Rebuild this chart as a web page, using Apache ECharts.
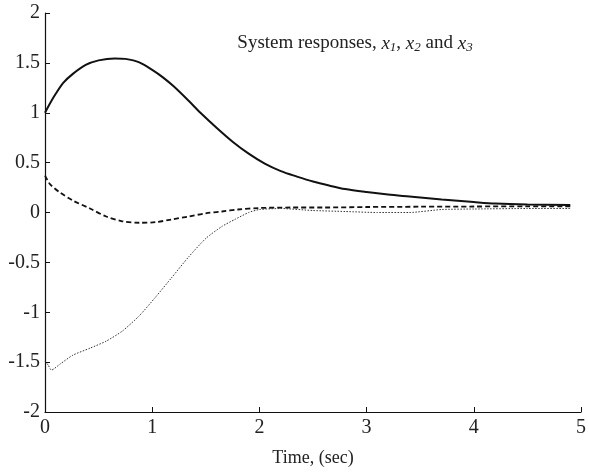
<!DOCTYPE html>
<html>
<head>
<meta charset="utf-8">
<script src="https://cdn.jsdelivr.net/npm/echarts@6/dist/echarts.min.js"></script>
<style>html,body{margin:0;padding:0;background:#fff;}#chart{width:589px;height:472px;}</style>
</head>
<body>
<div id="chart"></div>
<script>
// Data
var xTicks = [0, 1, 2, 3, 4, 5];
var yTicks = [-2, -1.5, -1, -0.5, 0, 0.5, 1, 1.5, 2];

var t1 = [0, 0.05, 0.1, 0.17, 0.26, 0.38, 0.5, 0.65, 0.75, 0.88, 1.0, 1.1, 1.2, 1.34, 1.45, 1.6, 1.75, 1.9, 2.05, 2.2, 2.35, 2.5, 2.65, 2.8, 3.0, 3.2, 3.4, 3.7, 4.0, 4.2, 4.5, 4.9];
var x1 = [1.00, 1.10, 1.19, 1.30, 1.39, 1.48, 1.525, 1.545, 1.54, 1.505, 1.43, 1.355, 1.265, 1.12, 1.0, 0.85, 0.71, 0.59, 0.49, 0.415, 0.36, 0.31, 0.27, 0.235, 0.205, 0.18, 0.16, 0.13, 0.105, 0.09, 0.08, 0.075];

var t2 = [0, 0.02, 0.05, 0.14, 0.26, 0.42, 0.57, 0.72, 0.88, 1.03, 1.18, 1.34, 1.5, 1.65, 1.8, 2.0, 2.3, 2.6, 3.0, 3.5, 4.0, 4.5, 4.9];
var x2 = [0.37, 0.33, 0.28, 0.20, 0.12, 0.04, -0.04, -0.088, -0.103, -0.097, -0.07, -0.04, -0.008, 0.01, 0.03, 0.045, 0.05, 0.05, 0.055, 0.058, 0.06, 0.062, 0.062];

var t3 = [0, 0.03, 0.06, 0.14, 0.26, 0.42, 0.57, 0.72, 0.88, 1.03, 1.18, 1.34, 1.5, 1.65, 1.77, 1.9, 2.0, 2.2, 2.5, 2.8, 3.1, 3.4, 3.7, 4.0, 4.5, 4.9];
var x3 = [-1.49, -1.53, -1.58, -1.52, -1.43, -1.36, -1.29, -1.19, -1.035, -0.85, -0.655, -0.445, -0.26, -0.14, -0.07, 0.0, 0.03, 0.04, 0.02, 0.01, 0.0, 0.0, 0.03, 0.035, 0.04, 0.04];

function pairs(t, v) { return t.map(function (x, i) { return [x, v[i]]; }); }

var serif = '"Liberation Serif", "DejaVu Serif", serif';
var chart = echarts.init(document.getElementById('chart'));
chart.setOption({
  animation: false,
  backgroundColor: '#fff',
  grid: { left: 45, right: 2.3, top: 13, bottom: 58, containLabel: false },
  title: {
    text: 'System responses, {i|x}{s|1}, {i|x}{s|2} and {i|x}{s|3}',
    left: 350, top: 28, textAlign: 'center',
    textStyle: {
      fontFamily: serif, fontSize: 19, fontWeight: 'normal', color: '#222',
      rich: {
        i: { fontFamily: serif, fontSize: 19, fontStyle: 'italic', color: '#222' },
        s: { fontFamily: serif, fontSize: 13, fontStyle: 'italic', color: '#222', padding: [8, 0, 0, 0] }
      }
    }
  },
  xAxis: {
    type: 'value', min: xTicks[0], max: xTicks[xTicks.length - 1], interval: 1,
    name: 'Time, (sec)', nameLocation: 'middle', nameGap: 37,
    nameTextStyle: { fontFamily: serif, fontSize: 18, color: '#222' },
    axisLine: { show: true, onZero: false, lineStyle: { color: '#111', width: 1.2 } },
    axisTick: { show: true, inside: true, length: 5, lineStyle: { color: '#111' } },
    axisLabel: { fontFamily: serif, fontSize: 20, color: '#222', margin: 6 },
    splitLine: { show: false }
  },
  yAxis: {
    type: 'value', min: yTicks[0], max: yTicks[yTicks.length - 1], interval: 0.5,
    axisLine: { show: true, onZero: false, lineStyle: { color: '#111', width: 1.2 } },
    axisTick: { show: true, inside: true, length: 5, lineStyle: { color: '#111' } },
    axisLabel: { fontFamily: serif, fontSize: 20, color: '#222', margin: 5 },
    splitLine: { show: false }
  },
  series: [
    { name: 'x1', type: 'line', data: pairs(t1, x1), smooth: 0.3, showSymbol: false,
      lineStyle: { color: '#111', width: 2, type: 'solid' } },
    { name: 'x2', type: 'line', data: pairs(t2, x2), smooth: 0.3, showSymbol: false,
      lineStyle: { color: '#111', width: 1.8, type: [5, 3] } },
    { name: 'x3', type: 'line', data: pairs(t3, x3), smooth: 0.2, showSymbol: false,
      lineStyle: { color: '#333', width: 1, type: [1.5, 1.5] } }
  ]
});
</script>
</body>
</html>
